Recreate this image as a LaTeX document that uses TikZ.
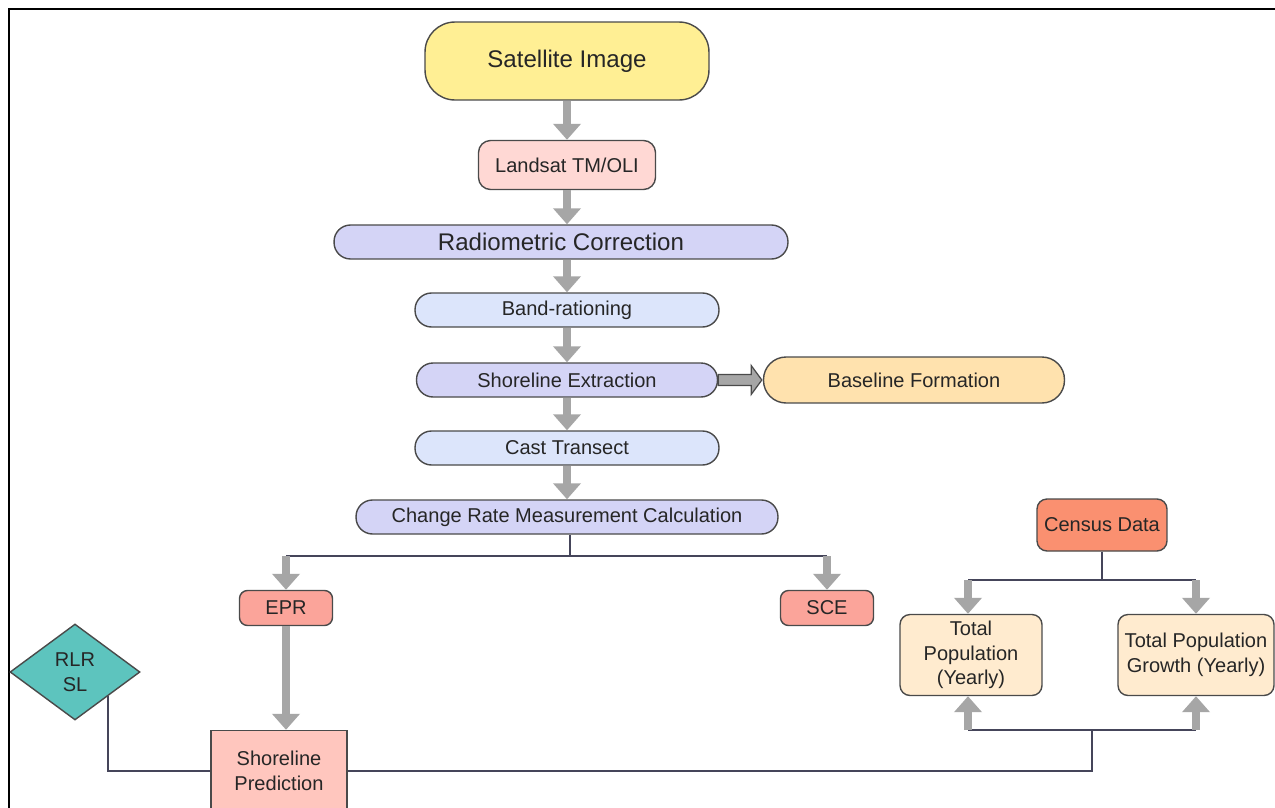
\documentclass[tikz,border=0pt]{standalone}
\usepackage{fontspec}
\setmainfont{Liberation Sans}
\usetikzlibrary{arrows.meta,shapes.geometric,calc}
\definecolor{satfill}{HTML}{FFEF94}
\definecolor{landfill}{HTML}{FFD8D4}
\definecolor{lavfill}{HTML}{D4D4F6}
\definecolor{bluefill}{HTML}{DCE5FB}
\definecolor{basefill}{HTML}{FFE2AE}
\definecolor{eprfill}{HTML}{FBA49A}
\definecolor{censusfill}{HTML}{FA9070}
\definecolor{popfill}{HTML}{FFEBCF}
\definecolor{rlrfill}{HTML}{5DC4BE}
\definecolor{spfill}{HTML}{FFC6BE}
\definecolor{nodeborder}{HTML}{4A4A4A}
\definecolor{arrowgray}{HTML}{A6A6A6}
\definecolor{linkcol}{HTML}{45455A}
\begin{document}
\begin{tikzpicture}[x=0.02cm,y=-0.02cm,
  box/.style={draw=nodeborder, line width=0.8pt, inner sep=0pt, align=center,
    text=black!85, font=\fontsize{11.4}{13.9}\selectfont},
  bigtext/.style={font=\fontsize{13.7}{16}\selectfont},
  fat/.style={draw=arrowgray, line width=4.5pt, -{Triangle[width=0.54cm,length=0.32cm]}},
  link/.style={draw=linkcol, line width=1.1pt}]
\useasboundingbox (0,0) rectangle (1275,808);
\fill[white] (0,0) rectangle (1275,808);
\draw[line width=1.7pt, line cap=rect] (9,812) -- (9,9) -- (1280,9);

% main column
\node[box, bigtext, fill=satfill, rounded corners=0.6cm, minimum width=5.68cm, minimum height=1.56cm] (sat) at (567,61) {Satellite Image};
\node[box, fill=landfill, rounded corners=0.24cm, minimum width=3.54cm, minimum height=0.98cm] (land) at (567,165) {Landsat TM/OLI};
\node[box, bigtext, fill=lavfill, rounded corners=0.33cm, minimum width=9.08cm, minimum height=0.68cm] (rad) at (561,242) {Radiometric Correction};
\node[box, fill=bluefill, rounded corners=0.33cm, minimum width=6.08cm, minimum height=0.68cm] (band) at (567,310) {Band-rationing};
\node[box, fill=lavfill, rounded corners=0.33cm, minimum width=6.02cm, minimum height=0.68cm] (se) at (567,380) {Shoreline Extraction};
\node[box, fill=basefill, rounded corners=0.45cm, minimum width=6.02cm, minimum height=0.92cm] (bf) at (914,380) {Baseline Formation};
\node[box, fill=bluefill, rounded corners=0.33cm, minimum width=6.08cm, minimum height=0.68cm] (ct) at (567,448) {Cast Transect};
\node[box, fill=lavfill, rounded corners=0.33cm, minimum width=8.44cm, minimum height=0.68cm] (cr) at (567,517) {Change Rate Measurement Calculation};

% outputs
\node[box, fill=eprfill, rounded corners=0.16cm, minimum width=1.86cm, minimum height=0.70cm] (epr) at (286,608) {EPR};
\node[box, fill=eprfill, rounded corners=0.16cm, minimum width=1.86cm, minimum height=0.70cm] (sce) at (827,608) {SCE};
\node[box, fill=spfill, minimum width=2.72cm, minimum height=1.62cm] (sp) at (279,771) {Shoreline\\Prediction};
\node[box, fill=rlrfill, shape=diamond, minimum width=2.6cm, minimum height=1.92cm] (rlr) at (75,672) {RLR\\SL};

% census
\node[box, fill=censusfill, rounded corners=0.2cm, minimum width=2.6cm, minimum height=1.04cm] (cd) at (1102,525) {Census Data};
\node[box, fill=popfill, rounded corners=0.2cm, minimum width=2.84cm, minimum height=1.62cm] (tp) at (971,655) {Total\\Population\\(Yearly)};
\node[box, fill=popfill, rounded corners=0.2cm, minimum width=3.12cm, minimum height=1.62cm] (tpg) at (1196,655) {Total Population\\Growth (Yearly)};

% main flow arrows
\draw[fat] (sat.south) -- (land.north);
\draw[fat] (land.south) -- (land.south |- rad.north);
\draw[fat] (rad.south -| band.north) -- (band.north);
\draw[fat] (band.south) -- (se.north);
\draw[fat] (se.south) -- (ct.north);
\draw[fat] (ct.south) -- (cr.north);

% block arrow to baseline
\draw[draw=nodeborder, fill=arrowgray, line width=0.7pt, line join=miter]
  (se.east) ++(0,-5.5) -- ++(33,0) -- ++(0,-9) -- ($(bf.west)+(-1,0)$)
  -- ($(se.east)+(33,14.5)$) -- ++(0,-9) -- ++(-33,0) -- cycle;

% change rate fork
\coordinate (f1) at (570,556);
\draw[link] (cr.south -| f1) -- (f1);
\draw[link] (epr.north |- f1) -- (sce.north |- f1);
\draw[fat] (epr.north |- f1) -- (epr.north);
\draw[fat] (sce.north |- f1) -- (sce.north);
\draw[fat] (epr.south) -- (epr.south |- sp.north);

% census fork
\coordinate (f2) at (1102,580);
\draw[link] (cd.south) -- (f2);
\draw[link] (968,580) -- (1196,580);
\draw[fat] (968,580) -- (tp.north -| 968,0);
\draw[fat] (1196,580) -- (tpg.north);

% bottom links
\draw[link] (rlr.south east) |- (sp.west);
\coordinate (f3) at (1092,730);
\draw[link] (sp.east) -| (f3);
\draw[link] (968,730) -- (1196,730);
\draw[fat] (968,730) -- (tp.south -| 968,0);
\draw[fat] (1196,730) -- (tpg.south);
\end{tikzpicture}
\end{document}
